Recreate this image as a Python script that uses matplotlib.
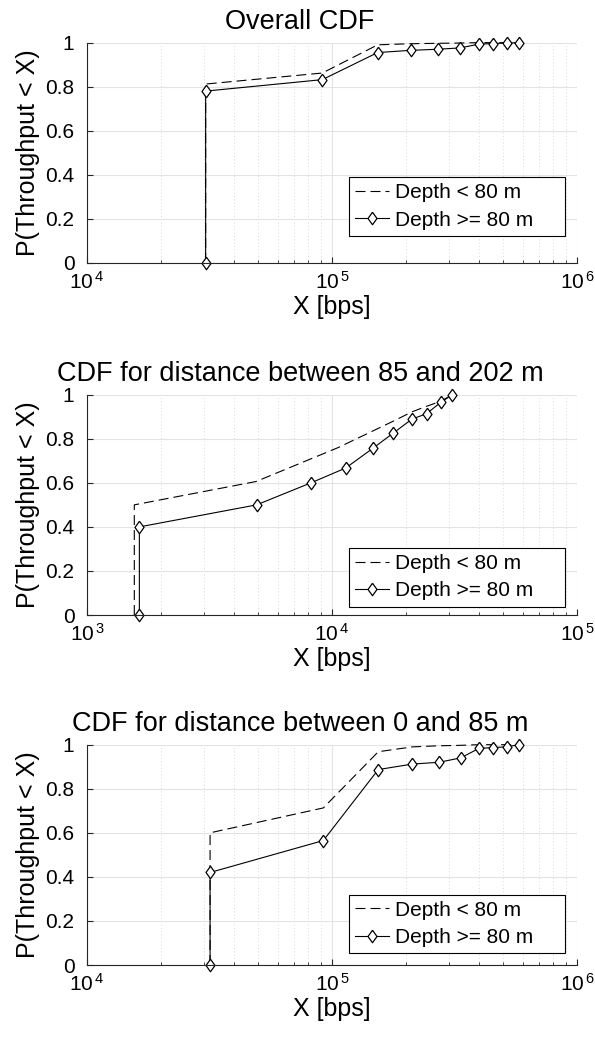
import matplotlib
matplotlib.use("Agg")
import matplotlib.pyplot as plt
from matplotlib.ticker import LogLocator, FixedLocator, FixedFormatter, NullFormatter

plt.rcParams["font.family"] = ["Liberation Sans", "DejaVu Sans"]
plt.rcParams["mathtext.fontset"] = "custom"
plt.rcParams["mathtext.rm"] = "Liberation Sans"
plt.rcParams["mathtext.it"] = "Liberation Sans:italic"

# общий CDF
x_all_deep = [30500, 30500, 91300, 153700, 210000, 271600, 333000, 398000, 455000, 516000, 581000]
y_all_deep = [0, 0.78, 0.832, 0.955, 0.965, 0.97, 0.976, 0.993, 0.996, 0.998, 1.0]
x_all_shallow = [30500, 30500, 91300, 153700, 210000, 271600, 333000, 398000, 455000, 516000, 581000]
y_all_shallow = [0, 0.812, 0.862, 0.99, 0.995, 0.997, 0.998, 1.0, 1.0, 1.0, 1.0]

# дистанция 85..202 м
x_far_deep = [1636, 1636, 4925, 8210, 11370, 14660, 17800, 21200, 24350, 27780, 30990]
y_far_deep = [0, 0.40, 0.50, 0.60, 0.667, 0.756, 0.826, 0.889, 0.914, 0.965, 1.0]
x_far_shallow = [1560, 1560, 4900, 10600, 14660, 17800, 21200, 24000, 27780, 30990]
y_far_shallow = [0, 0.5, 0.606, 0.76, 0.835, 0.88, 0.922, 0.945, 0.97, 1.0]

# дистанция 0..85 м
x_near_deep = [31800, 31800, 92200, 154500, 212800, 273400, 335200, 398000, 455000, 516000, 581000]
y_near_deep = [0, 0.42, 0.565, 0.887, 0.912, 0.92, 0.94, 0.983, 0.987, 0.99, 1.0]
x_near_shallow = [31800, 31800, 92200, 154500, 212800, 273400, 335200, 398000, 455000, 516000, 581000]
y_near_shallow = [0, 0.60, 0.713, 0.968, 0.99, 0.995, 0.997, 1.0, 1.0, 1.0, 1.0]

titles = ["Overall CDF",
          "CDF for distance between 85 and 202 m",
          "CDF for distance between 0 and 85 m"]
decades = [(4, 6), (3, 5), (4, 6)]
legend_y = [0.123, 0.038, 0.053]
y_ticks = [0, 0.2, 0.4, 0.6, 0.8, 1]
y_labels = ["0", "0.2", "0.4", "0.6", "0.8", "1"]

series = [
    (x_all_shallow, y_all_shallow, x_all_deep, y_all_deep),
    (x_far_shallow, y_far_shallow, x_far_deep, y_far_deep),
    (x_near_shallow, y_near_shallow, x_near_deep, y_near_deep),
]
bottoms = [0.7464, 0.4069, 0.0694]

# ромбик как в матлабе (шире, чем 'd')
diamond = [(0, 1), (0.72, 0), (0, -1), (-0.72, 0), (0, 1)]

axcol = "#262626"
fig = plt.figure(figsize=(5.95, 10.37), dpi=100)

for i in range(3):
    p = fig.add_axes([0.1462, bottoms[i], 0.8235, 0.2125])
    xs, ys, xd, yd = series[i]
    p.plot(xs, ys, color="black", linestyle=(0, (9, 4.5)), linewidth=0.8,
           label="Depth < 80 m", clip_on=False)
    p.plot(xd, yd, color="black", linewidth=0.8, marker=diamond, markersize=9,
           markerfacecolor="white", markeredgecolor="black", markeredgewidth=0.9,
           label="Depth >= 80 m", clip_on=False)
    p.set_xscale("log")
    lo, hi = decades[i]
    p.set_xlim(10 ** lo, 10 ** hi)
    p.set_ylim(0, 1)
    # подписи осей
    p.xaxis.set_major_locator(FixedLocator([10 ** k for k in range(lo, hi + 1)]))
    p.xaxis.set_major_formatter(FixedFormatter([r"$10^{\,%d}$" % k for k in range(lo, hi + 1)]))
    p.xaxis.set_minor_locator(LogLocator(base=10, subs=range(2, 10)))
    p.xaxis.set_minor_formatter(NullFormatter())
    p.yaxis.set_major_locator(FixedLocator(y_ticks))
    p.yaxis.set_major_formatter(FixedFormatter(y_labels))
    # сетка
    p.grid(which="major", color="#e3e3e3", linewidth=0.8, linestyle="-")
    p.grid(which="minor", axis="x", color="#cfcfcf", linewidth=0.6, linestyle=(0, (1, 3)))
    p.set_axisbelow(True)
    for s in ["top", "right"]:
        p.spines[s].set_visible(False)
    for s in ["left", "bottom"]:
        p.spines[s].set_color(axcol)
        p.spines[s].set_linewidth(0.8)
    p.tick_params(which="both", direction="in", colors=axcol, labelcolor="black",
                  labelsize=15, top=False, right=False)
    p.tick_params(which="major", length=4)
    p.tick_params(which="minor", length=2)
    p.tick_params(axis="x", pad=6)
    p.tick_params(axis="y", pad=9)
    p.set_title(titles[i], fontsize=19.5, pad=9.5, x=0.435)
    p.set_xlabel("X [bps]", fontsize=18, labelpad=1)
    p.set_ylabel("P(Throughput < X)", fontsize=18, labelpad=4)
    leg = p.legend(loc="lower left", bbox_to_anchor=(0.535, legend_y[i], 0.441, 0.2),
                   mode="expand", borderaxespad=0, fontsize=15, fancybox=False,
                   framealpha=1, edgecolor="black", handlelength=1.6,
                   handletextpad=0.3, borderpad=0.3, labelspacing=0.4)
    leg.get_frame().set_linewidth(0.8)

fig.savefig("out.png", dpi=100)
